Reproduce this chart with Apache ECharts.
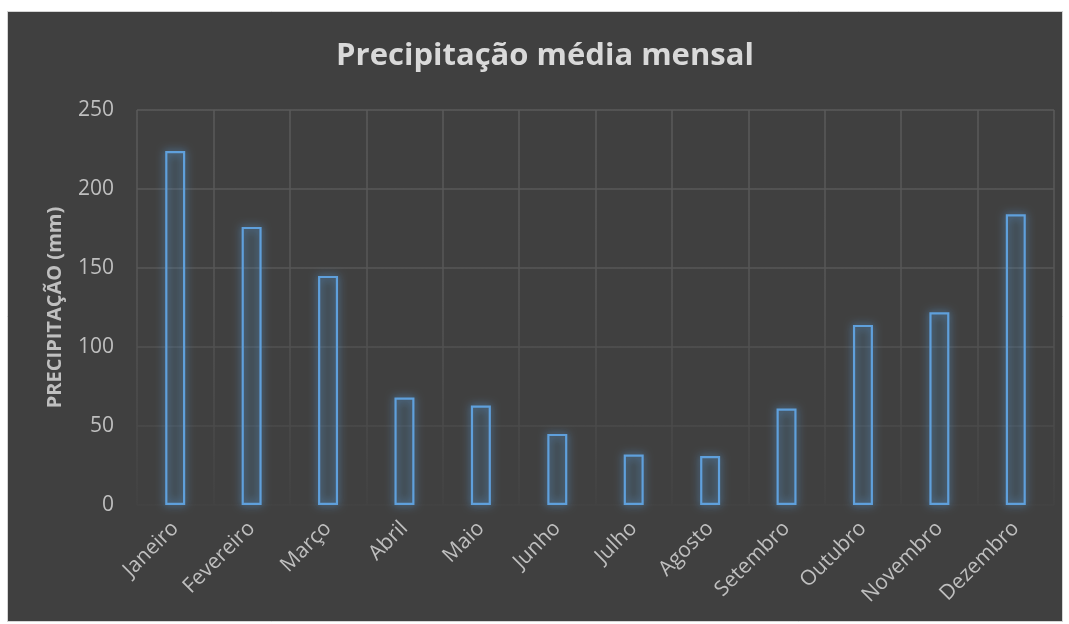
<!DOCTYPE html>
<html><head><meta charset="utf-8">
<script src="https://cdn.jsdelivr.net/npm/echarts@6/dist/echarts.min.js"></script>
<style>html,body{margin:0;padding:0;background:#fff}#c{width:1069px;height:624px}</style>
</head><body><div id="c"></div>
<script>
const months = ['Janeiro','Fevereiro','Março','Abril','Maio','Junho','Julho','Agosto','Setembro','Outubro','Novembro','Dezembro'];
const precip = [224, 176, 145, 68, 63, 45, 32, 31, 61, 114, 122, 184];
const yTicks = {min: 0, max: 250, interval: 50};
const titleText = 'Precipitação média mensal';
const yName = 'PRECIPITAÇÃO (mm)';

const chart = echarts.init(document.getElementById('c'), null, {renderer: 'canvas'});
const gridColor = new echarts.graphic.LinearGradient(0, 110, 0, 505, [
  {offset: 0, color: '#5a5a5a'},
  {offset: 0.45, color: '#565656'},
  {offset: 0.75, color: '#4c4c4c'},
  {offset: 1, color: '#434343'}
], true);
chart.setOption({
  backgroundColor: '#ffffff',
  animation: false,
  graphic: [{type: 'rect', z: -10, shape: {x: 7.5, y: 11.5, width: 1055, height: 610}, style: {fill: '#404040', stroke: '#d4d4d4', lineWidth: 1}}],
  title: {text: titleText, left: 540, textAlign: 'center', top: 36, textStyle: {color: '#d9d9d9', fontFamily: 'Open Sans', fontWeight: 'bold', fontSize: 31}},
  grid: {left: 137, top: 110, width: 917, height: 395, containLabel: false},
  xAxis: {
    type: 'category', data: months,
    axisLine: {show: false}, axisTick: {show: false},
    splitLine: {show: true, interval: 0, lineStyle: {color: gridColor, width: 1.5}},
    axisLabel: {rotate: 45, interval: 0, color: '#bfbfbf', fontFamily: 'Open Sans', fontSize: 21, margin: 20}
  },
  yAxis: {
    type: 'value', min: yTicks.min, max: yTicks.max, interval: yTicks.interval,
    name: yName, nameLocation: 'middle', nameGap: 72, nameRotate: 90,
    nameTextStyle: {color: '#bfbfbf', fontFamily: 'Open Sans', fontWeight: 'bold', fontSize: 20},
    axisLine: {show: false}, axisTick: {show: false},
    splitLine: {lineStyle: {color: gridColor, width: 1.5}},
    axisLabel: {color: '#bfbfbf', fontFamily: 'Open Sans', fontSize: 21, margin: 23}
  },
  series: [{
    type: 'bar', data: precip, barWidth: 20,
    itemStyle: {color: 'rgba(91,155,213,0.07)', borderColor: '#5fa0dc', borderWidth: 2.2,
      shadowBlur: 9, shadowColor: 'rgba(91,155,213,1)'}
  }]
});
</script></body></html>
